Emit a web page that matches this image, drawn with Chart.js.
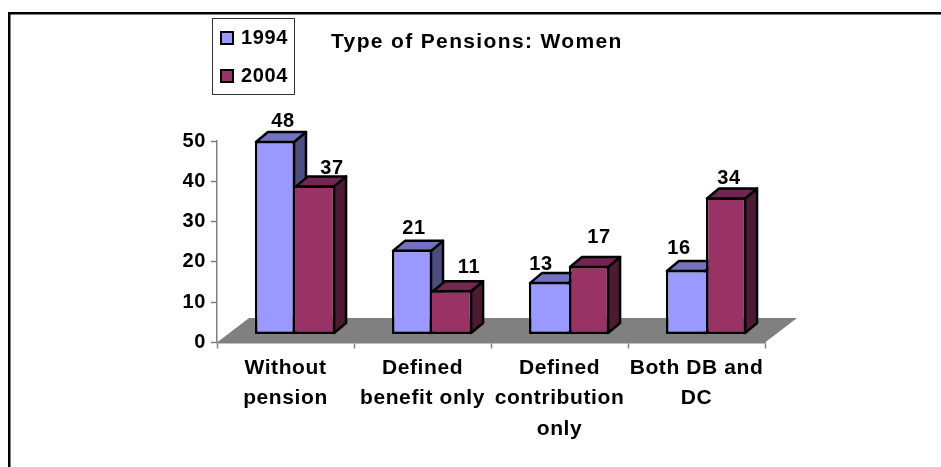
<!DOCTYPE html>
<html>
<head>
<meta charset="utf-8">
<title>Type of Pensions: Women</title>
<script src="https://cdn.jsdelivr.net/npm/chart.js@4"></script>
<style>
  html, body { margin: 0; padding: 0; background: #fff; }
  canvas { display: block; }
</style>
</head>
<body>
<canvas id="chart" width="941" height="467"></canvas>
<script>
// ===== DATA =====
const categories = [
    ['Without', 'pension'],
    ['Defined', 'benefit only'],
    ['Defined', 'contribution', 'only'],
    ['Both DB and', 'DC']
];
const values1994 = [48, 21, 13, 16];
const values2004 = [37, 11, 17, 34];
const yTicks = [0, 10, 20, 30, 40, 50];

// ===== STYLE =====
const FONT = '"Liberation Sans", Arial, sans-serif';
const CHART_TITLE = 'Type of Pensions: Women';

// fake 3D, same numbers Excel would use for this depth
const SHIFT_X = 9.5, SHIFT_Y = -8;      // bars sit a bit back on the floor
const BAR_DX = 12, BAR_DY = -10;        // side and top faces
const FLOOR_DX = 32, FLOOR_DY = -24.5;
const EDGE = 2.5;

// data labels are not placed regularly in the original
const labelShift = [
    [[8, -19.5], [2, -21], [-8, -18], [-7, -21.5]],
    [[17, -17], [17, -22.5], [10, -28.5], [3, -19]]
];

const seriesStyles = [
    { label: '1994', front: '#9999FF', top: '#7373BF', side: '#4D4D80' },
    { label: '2004', front: '#993366', top: '#732650', side: '#4D1A33' }
];

// the taller bar of a pair owns the shared edge, otherwise it is drawn twice
function barBorder(ctx) {
    const i = ctx.dataIndex;
    const mine = ctx.datasetIndex === 0 ? values1994[i] : values2004[i];
    const other = ctx.datasetIndex === 0 ? values2004[i] : values1994[i];
    const shared = mine > other ? EDGE : 0;
    return ctx.datasetIndex === 0
        ? { top: EDGE, bottom: EDGE, left: EDGE, right: shared }
        : { top: EDGE, bottom: EDGE, left: shared, right: EDGE };
}

// ===== 3D PLUGIN =====
function face(ctx, pts, fill) {
    ctx.beginPath();
    pts.forEach((p, i) => i ? ctx.lineTo(p[0], p[1]) : ctx.moveTo(p[0], p[1]));
    ctx.closePath();
    ctx.fillStyle = fill;
    ctx.fill();
    ctx.strokeStyle = '#000';
    ctx.lineWidth = EDGE;
    ctx.lineJoin = 'round';
    ctx.stroke();
}

const bars3d = {
    id: 'bars3d',
    beforeDraw(chart) {
        const ctx = chart.ctx;
        // frame: only top and left are inside the picture
        ctx.fillStyle = '#000';
        ctx.fillRect(8, 12, 933, 2.5);
        ctx.fillRect(8, 12, 2.5, 455);
        // text in the original runs a little wide
        ctx.letterSpacing = '0.6px';
    },
    beforeDatasetsDraw(chart) {
        const ctx = chart.ctx;
        const { left, right } = chart.chartArea;
        const y0 = chart.scales.y.getPixelForValue(0);

        ctx.save();
        ctx.fillStyle = '#808080';
        ctx.beginPath();
        ctx.moveTo(left, y0);
        ctx.lineTo(right, y0);
        ctx.lineTo(right + FLOOR_DX, y0 + FLOOR_DY);
        ctx.lineTo(left + FLOOR_DX, y0 + FLOOR_DY);
        ctx.closePath();
        ctx.fill();
        ctx.restore();

        // everything up to afterDatasetsDraw is moved back onto the floor
        ctx.save();
        ctx.translate(SHIFT_X, SHIFT_Y);
        chart.data.datasets.forEach((ds, d) => {
            chart.getDatasetMeta(d).data.forEach(bar => {
                const x1 = bar.x - bar.width / 2 + 1;
                const x2 = bar.x + bar.width / 2 - 1;
                const top = bar.y + 1;
                const base = bar.base - 1;
                face(ctx, [[x2, top], [x2 + BAR_DX, top + BAR_DY], [x2 + BAR_DX, base + BAR_DY], [x2, base]], seriesStyles[d].side);
                face(ctx, [[x1, top], [x1 + BAR_DX, top + BAR_DY], [x2 + BAR_DX, top + BAR_DY], [x2, top]], seriesStyles[d].top);
            });
        });
    },
    afterDatasetsDraw(chart) {
        const ctx = chart.ctx;
        ctx.restore();

        // data labels
        ctx.save();
        ctx.fillStyle = '#000';
        ctx.font = 'bold 20px ' + FONT;
        ctx.textAlign = 'center';
        ctx.textBaseline = 'middle';
        chart.data.datasets.forEach((ds, d) => {
            chart.getDatasetMeta(d).data.forEach((bar, i) => {
                const off = labelShift[d][i];
                ctx.fillText(ds.data[i], bar.x + SHIFT_X + off[0], bar.y + SHIFT_Y + off[1]);
            });
        });

        // title
        ctx.font = 'bold 21px ' + FONT;
        ctx.letterSpacing = '1.35px';
        ctx.textAlign = 'left';
        ctx.fillText(CHART_TITLE, 331, 42);
        ctx.letterSpacing = '0.6px';

        // legend box
        ctx.strokeStyle = '#333';
        ctx.lineWidth = 1;
        ctx.strokeRect(212.5, 18.5, 82, 76);
        ctx.font = 'bold 20px ' + FONT;
        chart.data.datasets.forEach((ds, d) => {
            const y = 38 + d * 38;
            ctx.fillStyle = seriesStyles[d].front;
            ctx.strokeStyle = '#000';
            ctx.lineWidth = 2;
            ctx.fillRect(221, y - 6, 12, 12);
            ctx.strokeRect(221, y - 6, 12, 12);
            ctx.fillStyle = '#000';
            ctx.fillText(ds.label, 241, y);
        });
        ctx.restore();
    }
};

// ===== CHART =====
new Chart(document.getElementById('chart').getContext('2d'), {
    type: 'bar',
    data: {
        labels: categories,
        datasets: [
            { label: seriesStyles[0].label, data: values1994, backgroundColor: seriesStyles[0].front },
            { label: seriesStyles[1].label, data: values2004, backgroundColor: seriesStyles[1].front }
        ]
    },
    options: {
        responsive: false,
        animation: false,
        layout: { padding: { left: 0, right: 176, top: 141, bottom: 0 } },
        datasets: {
            bar: {
                categoryPercentage: 0.585,
                barPercentage: 1,
                borderColor: '#000',
                borderWidth: barBorder,
                borderSkipped: false
            }
        },
        plugins: {
            legend: { display: false },
            title: { display: false },
            tooltip: { enabled: false }
        },
        scales: {
            x: {
                afterFit: s => { s.height = 124.5; },
                border: { color: '#808080', width: 1.5 },
                grid: { drawOnChartArea: false, color: '#808080', tickLength: 6, tickWidth: 1.5 },
                ticks: {
                    color: '#000',
                    maxRotation: 0,
                    autoSkip: false,
                    padding: 4,
                    font: { family: FONT, size: 21, weight: 'bold', lineHeight: 1.46 }
                }
            },
            y: {
                min: 0,
                max: 50,
                afterFit: s => { s.width = 217; },
                afterBuildTicks: s => { s.ticks = yTicks.map(v => ({ value: v })); },
                border: { color: '#808080', width: 1.5 },
                grid: { drawOnChartArea: false, color: '#808080', tickLength: 6, tickWidth: 1.5 },
                ticks: {
                    color: '#000',
                    padding: 5,
                    font: { family: FONT, size: 20, weight: 'bold' }
                }
            }
        }
    },
    plugins: [bars3d]
});
</script>
</body>
</html>
